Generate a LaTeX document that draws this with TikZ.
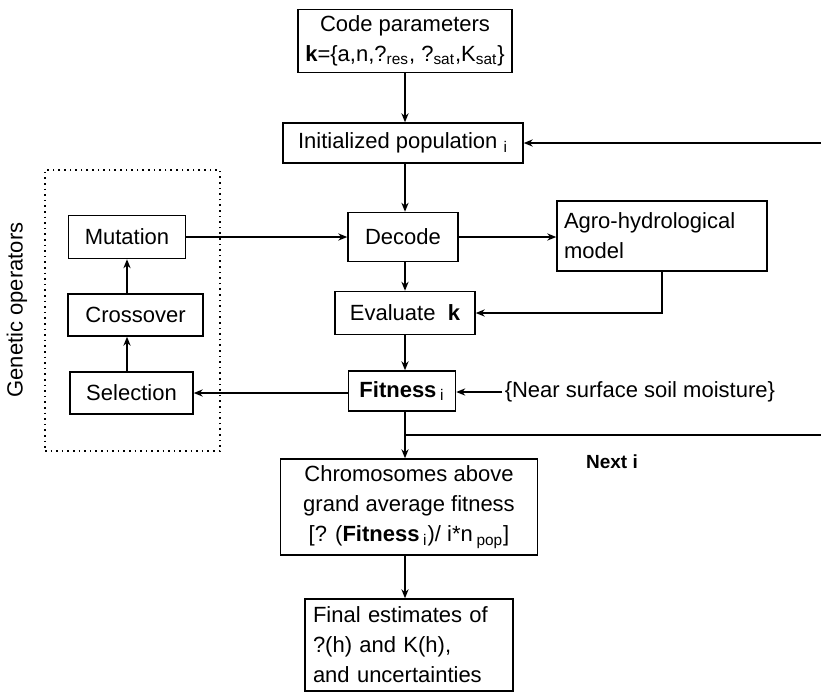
\documentclass[tikz,border=0pt]{standalone}
\usepackage{fontspec}
\setmainfont{Liberation Sans}
\usetikzlibrary{arrows.meta}

\begin{document}
\begin{tikzpicture}[>={Stealth[length=4.5pt,width=3.6pt]},x=0.5pt,y=-0.5pt,
		line width=0.75pt,
		box/.style={draw,line width=0.75pt,align=center,inner sep=0pt,font=\fontsize{11}{15}\selectfont},
		lbl/.style={font=\fontsize{11}{15}\selectfont}]
		\useasboundingbox (0,0) rectangle (821,692);
		% main column
		\node[box,minimum width=107pt,minimum height=31.5pt] (code) at (405,41)
			{Code parameters\\\textbf{k}=\{a,n,?\textsubscript{res}, ?\textsubscript{sat},K\textsubscript{sat}\}};
		\node[box,minimum width=120pt,minimum height=20pt] (init) at (403,143) {Initialized population \textsubscript{i}};
		\node[box,minimum width=55pt,minimum height=24.5pt] (decode) at (403,237) {Decode};
		\node[box,align=left,text width=98pt,inner xsep=3.5pt,minimum height=35pt] (agro) at (662,236)
			{Agro-hydrological\\model};
		\node[box,minimum width=70pt,minimum height=21.5pt] (eval) at (405,313) {Evaluate\ \ \textbf{k}};
		\node[box,minimum width=53.5pt,minimum height=20pt] (fit) at (402,391) {\textbf{Fitness}\,\textsubscript{i}};
		\node[lbl,anchor=west,inner sep=1pt] (near) at (502,392) {\{Near surface soil moisture\}};
		\node[box,minimum width=128.5pt,minimum height=48pt] (chrom) at (409,507)
			{Chromosomes above\\grand average fitness\\{}[? (\textbf{Fitness}\,\textsubscript{i})/ i*n\,\textsubscript{pop}]};
		\node[box,align=left,text width=96pt,inner xsep=4pt,minimum height=46pt] (final) at (409,645)
			{Final estimates of\\?(h) and K(h),\\and uncertainties};
		\node[font=\fontsize{9.5}{11}\selectfont\bfseries] (next) at (612,462) {Next i};
		% genetic operators
		\node[draw,dotted,line width=0.8pt,minimum width=87.5pt,minimum height=140.5pt] (gen) at (132.5,310.5) {};
		\node[lbl,rotate=90] (genlab) at (17,310) {Genetic operators};
		\node[box,minimum width=58.5pt,minimum height=21.5pt] (mut) at (127,237) {Mutation};
		\node[box,minimum width=67.5pt,minimum height=21pt] (cross) at (135.5,315) {Crossover};
		\node[box,minimum width=61.5pt,minimum height=21pt] (sel) at (131.5,393) {Selection};
		% loop ends at the right edge
		\coordinate (looptop) at (821,143);
		\coordinate (loopbot) at (821,435);
		% connectors
		\draw[->] (code.south -| 405,0) -- (init.north -| 405,0);
		\draw[->] (init.south -| 405,0) -- (decode.north -| 405,0);
		\draw[->] (decode.south -| 405,0) -- (eval.north -| 405,0);
		\draw[->] (eval.south -| 405,0) -- (fit.north -| 405,0);
		\draw[->] (fit.south -| 405,0) -- (chrom.north -| 405,0);
		\draw[->] (chrom.south -| 405,0) -- (final.north -| 405,0);
		\draw[->] (mut.east) -- (mut.east -| decode.west);
		\draw[->] (decode.east) -- (decode.east -| agro.west);
		\draw[->] (agro.south) |- (eval.east);
		\draw[->] (near.west) -- (fit.east |- near.west);
		\draw[->] (fit.west |- sel.east) -- (sel.east);
		\draw[->] (sel.north -| 127,0) -- (cross.south -| 127,0);
		\draw[->] (cross.north -| 127,0) -- (mut.south -| 127,0);
		\draw (405,435) -- (loopbot);
		\draw[->] (looptop) -- (init.east);
	\end{tikzpicture}
\end{document}
